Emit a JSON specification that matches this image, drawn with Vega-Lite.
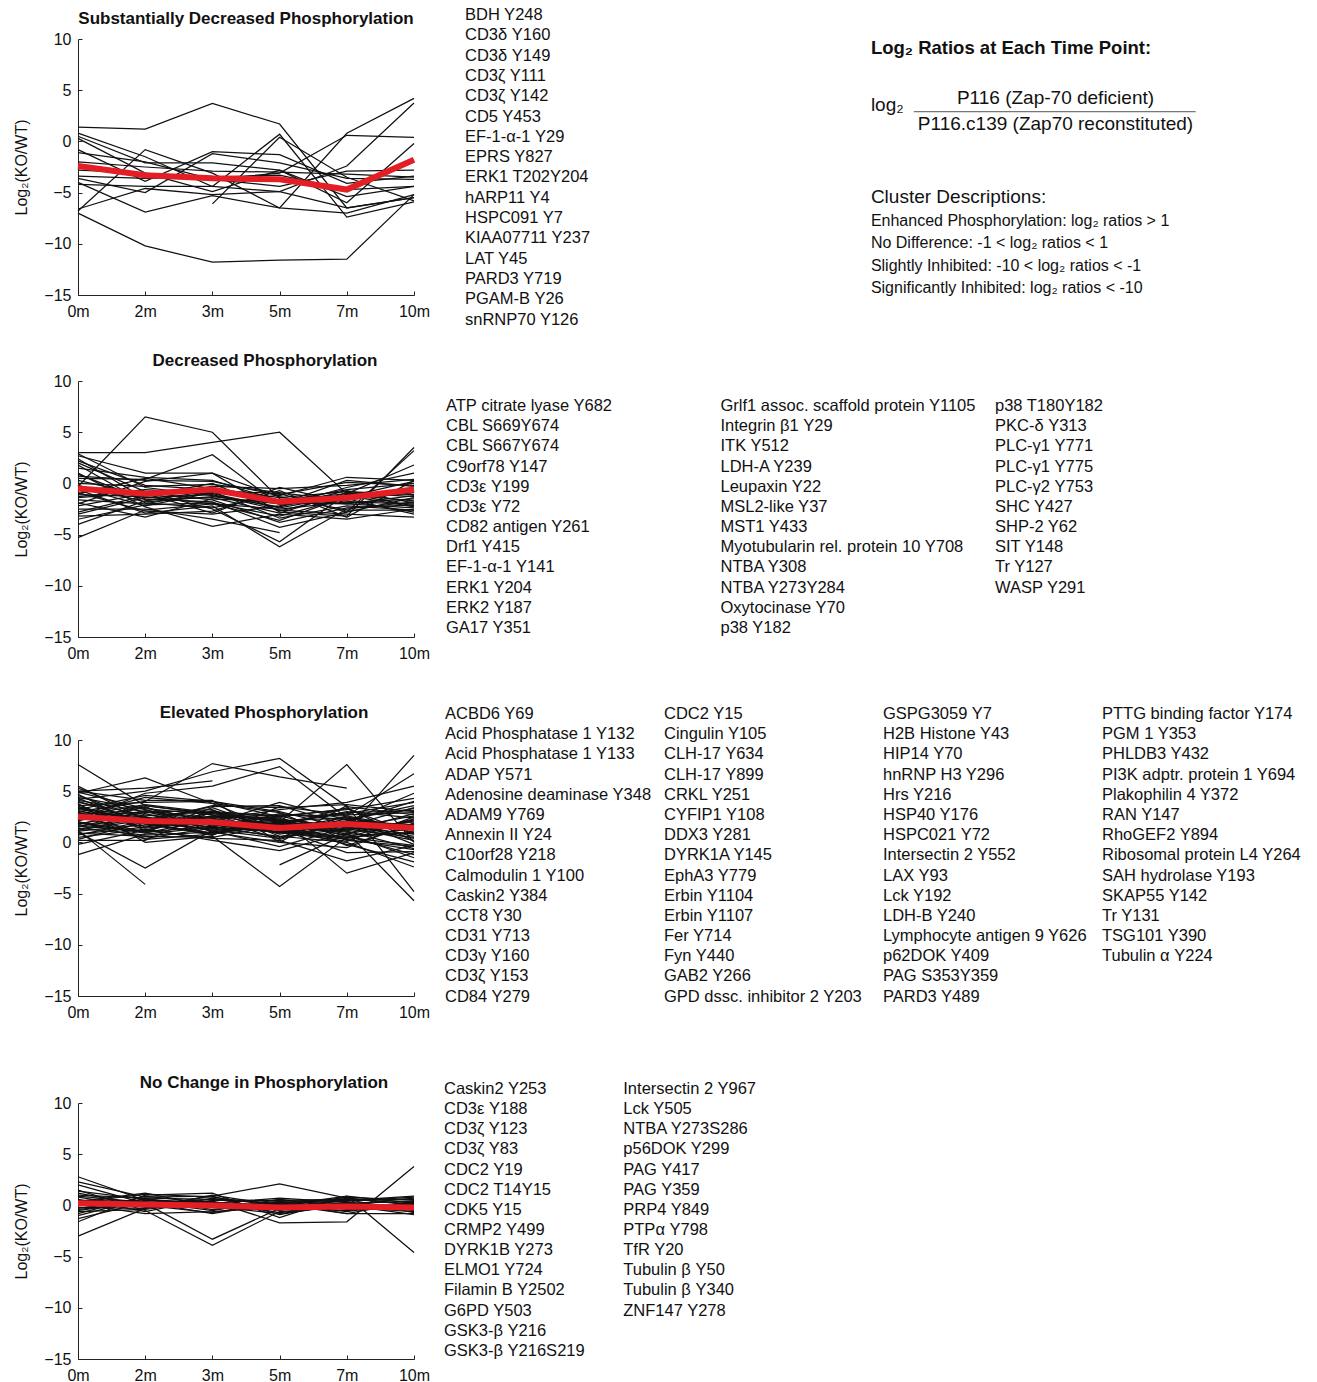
{
  "$schema": "https://vega.github.io/schema/vega-lite/v6.json",
  "padding": {"left": 13, "top": 7, "right": 0, "bottom": 0},
  "background": "white",
  "config": {
    "font": "Liberation Sans",
    "view": {"stroke": null},
    "axis": {"domainColor": "#222", "tickColor": "#222", "labelColor": "#111", "titleColor": "#111", "labelFontSize": 16, "titleFontSize": 16, "titleFontWeight": "normal", "grid": false, "tickSize": -4, "labelFont": "Liberation Sans", "titleFont": "Liberation Sans"},
    "title": {"fontSize": 17, "fontWeight": "bold", "color": "#111", "font": "Liberation Sans"},
    "text": {"font": "Liberation Sans", "color": "#111"}
  },
  "datasets": {
    "means": [
      {"panel": 1, "0m": -2.4, "2m": -3.3, "3m": -3.6, "5m": -3.7, "7m": -4.7, "10m": -1.8},
      {"panel": 2, "0m": -0.5, "2m": -1.0, "3m": -0.6, "5m": -1.8, "7m": -1.4, "10m": -0.6},
      {"panel": 3, "0m": 2.5, "2m": 2.1, "3m": 2.0, "5m": 1.4, "7m": 1.8, "10m": 1.4},
      {"panel": 4, "0m": 0.2, "2m": 0.1, "3m": 0.0, "5m": -0.2, "7m": -0.1, "10m": -0.2}
    ],
    "lines": [
      {"panel":1,"col":0,"name":"BDH Y248","0m":1.4,"2m":1.2,"3m":3.7,"5m":1.7,"7m":-6.5,"10m":-5.5},
      {"panel":1,"col":0,"name":"CD3δ Y160","0m":-7.0,"2m":-10.2,"3m":-11.8,"5m":-11.6,"7m":-11.5,"10m":-5.2},
      {"panel":1,"col":0,"name":"CD3δ Y149","0m":0.8,"2m":-1.5,"3m":-4.4,"5m":0.7,"7m":-7.4,"10m":-5.9},
      {"panel":1,"col":0,"name":"CD3ζ Y111","0m":-6.8,"2m":-0.8,"3m":-3.1,"5m":-6.5,"7m":0.8,"10m":4.2},
      {"panel":1,"col":0,"name":"CD3ζ Y142","0m":-6.6,"2m":-4.6,"3m":-5.2,"5m":-4.9,"7m":-2.4,"10m":3.75},
      {"panel":1,"col":0,"name":"CD5 Y453","0m":0.5,"2m":-2.1,"3m":-2.1,"5m":-2.8,"7m":-5.4,"10m":-4.4},
      {"panel":1,"col":0,"name":"EF-1-α-1 Y29","0m":-0.8,"2m":-3.9,"3m":-1.0,"5m":-1.3,"7m":-4.1,"10m":-3.4},
      {"panel":1,"col":0,"name":"EPRS Y827","0m":-1.1,"2m":-2.0,"3m":-3.7,"5m":-3.1,"7m":0.6,"10m":0.4},
      {"panel":1,"col":0,"name":"ERK1 T202Y204","0m":-2.8,"2m":-3.1,"3m":-4.9,"5m":-2.8,"7m":-6.0,"10m":-0.2},
      {"panel":1,"col":0,"name":"hARP11 Y4","0m":-3.6,"2m":-5.0,"3m":-1.2,"5m":-2.1,"7m":-3.6,"10m":-3.7},
      {"panel":1,"col":0,"name":"HSPC091 Y7","0m":-4.0,"2m":-6.9,"3m":-5.3,"5m":-6.5,"7m":-7.0,"10m":-5.2},
      {"panel":1,"col":0,"name":"KIAA07711 Y237","0m":-4.2,"2m":-4.4,"3m":-4.4,"5m":-4.9,"7m":-6.5,"10m":-5.5},
      {"panel":1,"col":0,"name":"LAT Y45","0m":0.3,"2m":-3.1,"3m":-3.7,"5m":-4.4,"7m":-2.9,"10m":-2.8},
      {"panel":1,"col":0,"name":"PARD3 Y719","0m":-3.4,"2m":-3.6,"3m":-3.5,"5m":-3.3,"7m":-4.7,"10m":-4.4},
      {"panel":1,"col":0,"name":"PGAM-B Y26","0m":-2.0,"2m":-2.5,"3m":-2.9,"5m":-3.0,"7m":-3.2,"10m":-3.5},
      {"panel":1,"col":0,"name":"snRNP70 Y126","0m":null,"2m":null,"3m":-6.1,"5m":0.4,"7m":-3.5,"10m":-5.8},

      {"panel":2,"col":0,"name":"ATP citrate lyase Y682","0m":3.0,"2m":3.0,"3m":4.0,"5m":5.0,"7m":-1.0,"10m":-2.2},
      {"panel":2,"col":0,"name":"CBL S669Y674","0m":-0.3,"2m":6.5,"3m":5.0,"5m":-1.5,"7m":-2.0,"10m":-1.2},
      {"panel":2,"col":0,"name":"CBL S667Y674","0m":0.5,"2m":0.4,"3m":2.8,"5m":-2.1,"7m":-1.6,"10m":-0.9},
      {"panel":2,"col":0,"name":"C9orf78 Y147","0m":-5.3,"2m":-2.6,"3m":-2.0,"5m":-2.5,"7m":-1.8,"10m":-2.0},
      {"panel":2,"col":0,"name":"CD3ε Y199","0m":2.7,"2m":1.0,"3m":1.0,"5m":-2.8,"7m":-3.2,"10m":3.5},
      {"panel":2,"col":0,"name":"CD3ε Y72","0m":2.4,"2m":-1.5,"3m":-1.8,"5m":-4.3,"7m":-2.8,"10m":3.2},
      {"panel":2,"col":0,"name":"CD82 antigen Y261","0m":2.0,"2m":-0.8,"3m":-2.5,"5m":-5.7,"7m":-1.0,"10m":1.8},
      {"panel":2,"col":0,"name":"Drf1 Y415","0m":1.0,"2m":-2.3,"3m":-4.2,"5m":-3.0,"7m":-3.5,"10m":-2.5},
      {"panel":2,"col":0,"name":"EF-1-α-1 Y141","0m":0.7,"2m":0.3,"3m":0.2,"5m":-1.2,"7m":0.6,"10m":0.3},
      {"panel":2,"col":0,"name":"ERK1 Y204","0m":0.3,"2m":-1.2,"3m":-0.3,"5m":-0.5,"7m":-0.2,"10m":0.4},
      {"panel":2,"col":0,"name":"ERK2 Y187","0m":-0.2,"2m":-1.8,"3m":-1.3,"5m":-2.0,"7m":0.3,"10m":-0.3},
      {"panel":2,"col":0,"name":"GA17 Y351","0m":-0.6,"2m":-2.9,"3m":-2.2,"5m":-6.2,"7m":-2.5,"10m":-1.8},
      {"panel":2,"col":1,"name":"Grlf1 assoc. scaffold protein  Y1105","0m":-1.0,"2m":0.5,"3m":-0.5,"5m":-1.4,"7m":-0.8,"10m":-1.1},
      {"panel":2,"col":1,"name":"Integrin β1 Y29","0m":-1.3,"2m":-0.6,"3m":-1.0,"5m":-2.4,"7m":-1.2,"10m":-2.3},
      {"panel":2,"col":1,"name":"ITK Y512","0m":-1.6,"2m":-2.0,"3m":-0.8,"5m":-3.4,"7m":-2.2,"10m":-2.6},
      {"panel":2,"col":1,"name":"LDH-A Y239","0m":-1.9,"2m":-3.3,"3m":-1.5,"5m":-1.8,"7m":-0.6,"10m":0.0},
      {"panel":2,"col":1,"name":"Leupaxin Y22","0m":-2.2,"2m":-1.0,"3m":-2.9,"5m":-0.4,"7m":-1.9,"10m":-1.5},
      {"panel":2,"col":1,"name":"MSL2-like Y37","0m":-2.5,"2m":-2.5,"3m":-3.5,"5m":-4.8,"7m":null,"10m":null},
      {"panel":2,"col":1,"name":"MST1 Y433","0m":-3.0,"2m":-1.4,"3m":-1.1,"5m":-2.6,"7m":-3.0,"10m":-3.3},
      {"panel":2,"col":1,"name":"Myotubularin rel. protein 10 Y708","0m":-3.5,"2m":-2.1,"3m":-1.9,"5m":-3.2,"7m":-1.4,"10m":-0.6},
      {"panel":2,"col":1,"name":"NTBA Y308","0m":-4.0,"2m":-1.7,"3m":-0.7,"5m":-1.0,"7m":-2.8,"10m":-1.4},
      {"panel":2,"col":1,"name":"NTBA Y273Y284","0m":1.5,"2m":0.6,"3m":0.3,"5m":-1.7,"7m":-1.0,"10m":-0.8},
      {"panel":2,"col":1,"name":"Oxytocinase Y70","0m":0.0,"2m":-0.3,"3m":-0.1,"5m":-0.9,"7m":-1.7,"10m":-2.8},
      {"panel":2,"col":1,"name":"p38 Y182","0m":-0.9,"2m":-2.7,"3m":-3.0,"5m":-2.2,"7m":-0.4,"10m":1.0},
      {"panel":2,"col":2,"name":"p38 T180Y182","0m":-1.4,"2m":-0.9,"3m":-1.6,"5m":-3.8,"7m":-2.4,"10m":-2.1},
      {"panel":2,"col":2,"name":"PKC-δ Y313","0m":-2.8,"2m":-1.2,"3m":0.0,"5m":-2.7,"7m":-1.1,"10m":-1.7},
      {"panel":2,"col":2,"name":"PLC-γ1 Y771","0m":1.8,"2m":-1.9,"3m":-2.4,"5m":-1.1,"7m":0.1,"10m":-0.2},
      {"panel":2,"col":2,"name":"PLC-γ1 Y775","0m":2.2,"2m":-0.2,"3m":-0.6,"5m":-1.9,"7m":-2.0,"10m":-2.4},
      {"panel":2,"col":2,"name":"PLC-γ2 Y753","0m":-3.2,"2m":-3.0,"3m":-2.7,"5m":-0.7,"7m":-3.3,"10m":0.3},
      {"panel":2,"col":2,"name":"SHC Y427","0m":0.9,"2m":-1.6,"3m":-1.4,"5m":-2.9,"7m":-0.9,"10m":-1.3},
      {"panel":2,"col":2,"name":"SHP-2 Y62","0m":-0.4,"2m":-2.2,"3m":-0.9,"5m":-1.6,"7m":-1.5,"10m":-3.0},
      {"panel":2,"col":2,"name":"SIT Y148","0m":-2.0,"2m":0.2,"3m":1.0,"5m":-1.3,"7m":-2.6,"10m":-2.6},
      {"panel":2,"col":2,"name":"Tr Y127","0m":2.9,"2m":-0.4,"3m":-1.2,"5m":-2.3,"7m":-0.7,"10m":-1.9},
      {"panel":2,"col":2,"name":"WASP Y291","0m":-1.1,"2m":-1.3,"3m":-2.0,"5m":-3.6,"7m":-1.3,"10m":0.2},

      {"panel":3,"col":0,"name":"ACBD6 Y69","0m":7.6,"2m":3.6,"3m":2.8,"5m":2.0,"7m":1.5,"10m":0.8},
      {"panel":3,"col":0,"name":"Acid Phosphatase 1 Y132","0m":5.5,"2m":2.2,"3m":1.5,"5m":1.0,"7m":2.1,"10m":1.7},
      {"panel":3,"col":0,"name":"Acid Phosphatase 1 Y133","0m":5.0,"2m":5.3,"3m":6.0,"5m":null,"7m":null,"10m":null},
      {"panel":3,"col":0,"name":"ADAP Y571","0m":4.8,"2m":6.3,"3m":3.8,"5m":1.2,"7m":0.5,"10m":-0.3},
      {"panel":3,"col":0,"name":"Adenosine deaminase Y348","0m":3.0,"2m":4.0,"3m":7.7,"5m":6.4,"7m":5.3,"10m":null},
      {"panel":3,"col":0,"name":"ADAM9 Y769","0m":4.2,"2m":5.0,"3m":6.9,"5m":8.2,"7m":3.5,"10m":2.7},
      {"panel":3,"col":0,"name":"Annexin II Y24","0m":2.2,"2m":4.8,"3m":5.5,"5m":7.4,"7m":2.4,"10m":1.2},
      {"panel":3,"col":0,"name":"C10orf28 Y218","0m":3.8,"2m":0.0,"3m":0.6,"5m":-4.3,"7m":0.5,"10m":1.0},
      {"panel":3,"col":0,"name":"Calmodulin 1 Y100","0m":1.0,"2m":-2.5,"3m":1.2,"5m":2.0,"7m":7.6,"10m":0.0},
      {"panel":3,"col":0,"name":"Caskin2 Y384","0m":1.2,"2m":-4.1,"3m":null,"5m":null,"7m":null,"10m":null},
      {"panel":3,"col":0,"name":"CCT8 Y30","0m":-1.2,"2m":0.8,"3m":1.5,"5m":1.0,"7m":0.3,"10m":-0.7},
      {"panel":3,"col":0,"name":"CD31 Y713","0m":-0.2,"2m":1.2,"3m":0.4,"5m":0.2,"7m":-1.8,"10m":-0.3},
      {"panel":3,"col":0,"name":"CD3γ Y160","0m":0.3,"2m":2.0,"3m":2.5,"5m":2.4,"7m":-3.0,"10m":-1.0},
      {"panel":3,"col":0,"name":"CD3ζ Y153","0m":1.6,"2m":2.4,"3m":2.1,"5m":1.8,"7m":1.2,"10m":8.5},
      {"panel":3,"col":0,"name":"CD84 Y279","0m":2.0,"2m":1.0,"3m":1.6,"5m":0.5,"7m":2.6,"10m":6.7},
      {"panel":3,"col":1,"name":"CDC2 Y15","0m":2.5,"2m":3.0,"3m":2.2,"5m":3.2,"7m":3.9,"10m":5.5},
      {"panel":3,"col":1,"name":"Cingulin Y105","0m":3.3,"2m":2.6,"3m":3.0,"5m":1.4,"7m":2.0,"10m":4.8},
      {"panel":3,"col":1,"name":"CLH-17 Y634","0m":3.5,"2m":1.8,"3m":0.9,"5m":2.6,"7m":3.2,"10m":4.3},
      {"panel":3,"col":1,"name":"CLH-17 Y899","0m":1.4,"2m":0.7,"3m":1.0,"5m":0.0,"7m":3.6,"10m":-4.8},
      {"panel":3,"col":1,"name":"CRKL Y251","0m":2.4,"2m":3.4,"3m":2.0,"5m":1.6,"7m":1.0,"10m":-5.7},
      {"panel":3,"col":1,"name":"CYFIP1 Y108","0m":1.8,"2m":2.9,"3m":3.2,"5m":0.6,"7m":0.0,"10m":-2.4},
      {"panel":3,"col":1,"name":"DDX3 Y281","0m":4.0,"2m":2.0,"3m":1.3,"5m":2.8,"7m":2.2,"10m":3.6},
      {"panel":3,"col":1,"name":"DYRK1A Y145","0m":3.6,"2m":3.9,"3m":4.0,"5m":3.0,"7m":1.4,"10m":2.6},
      {"panel":3,"col":1,"name":"EphA3 Y779","0m":0.8,"2m":1.5,"3m":2.6,"5m":2.2,"7m":0.8,"10m":-1.5},
      {"panel":3,"col":1,"name":"Erbin Y1104","0m":2.9,"2m":0.3,"3m":0.8,"5m":1.9,"7m":2.9,"10m":3.1},
      {"panel":3,"col":1,"name":"Erbin Y1107","0m":1.2,"2m":2.2,"3m":3.5,"5m":3.6,"7m":1.7,"10m":0.4},
      {"panel":3,"col":1,"name":"Fer Y714","0m":5.0,"2m":4.1,"3m":4.1,"5m":0.0,"7m":-0.5,"10m":1.9},
      {"panel":3,"col":1,"name":"Fyn Y440","0m":0.5,"2m":1.3,"3m":0.2,"5m":-0.8,"7m":0.9,"10m":2.2},
      {"panel":3,"col":1,"name":"GAB2 Y266","0m":2.6,"2m":3.7,"3m":2.9,"5m":2.5,"7m":3.3,"10m":0.8},
      {"panel":3,"col":1,"name":"GPD dssc. inhibitor 2 Y203","0m":4.4,"2m":3.2,"3m":1.7,"5m":1.2,"7m":2.5,"10m":1.2},
      {"panel":3,"col":2,"name":"GSPG3059 Y7","0m":3.1,"2m":1.9,"3m":0.7,"5m":3.5,"7m":2.7,"10m":2.9},
      {"panel":3,"col":2,"name":"H2B Histone Y43","0m":1.9,"2m":0.9,"3m":2.3,"5m":1.5,"7m":-0.2,"10m":-1.9},
      {"panel":3,"col":2,"name":"HIP14 Y70","0m":2.3,"2m":2.5,"3m":1.1,"5m":-0.4,"7m":1.5,"10m":0.2},
      {"panel":3,"col":2,"name":"hnRNP H3 Y296","0m":4.9,"2m":3.3,"3m":2.7,"5m":2.3,"7m":1.3,"10m":2.0},
      {"panel":3,"col":2,"name":"Hrs Y216","0m":1.6,"2m":1.1,"3m":3.4,"5m":1.1,"7m":0.4,"10m":1.4},
      {"panel":3,"col":2,"name":"HSP40 Y176","0m":3.9,"2m":2.7,"3m":1.8,"5m":0.9,"7m":2.3,"10m":3.3},
      {"panel":3,"col":2,"name":"HSPC021 Y72","0m":0.9,"2m":0.6,"3m":0.5,"5m":1.7,"7m":3.0,"10m":2.4},
      {"panel":3,"col":2,"name":"Intersectin 2 Y552","0m":2.7,"2m":4.4,"3m":3.8,"5m":2.9,"7m":0.2,"10m":-0.4},
      {"panel":3,"col":2,"name":"LAX Y93","0m":4.6,"2m":2.3,"3m":2.4,"5m":0.3,"7m":1.9,"10m":0.6},
      {"panel":3,"col":2,"name":"Lck Y192","0m":1.1,"2m":1.7,"3m":0.9,"5m":2.0,"7m":2.8,"10m":3.9},
      {"panel":3,"col":2,"name":"LDH-B Y240","0m":3.4,"2m":1.4,"3m":2.0,"5m":1.3,"7m":-1.0,"10m":-0.9},
      {"panel":3,"col":2,"name":"Lymphocyte antigen 9 Y626","0m":2.1,"2m":3.6,"3m":2.7,"5m":0.8,"7m":1.8,"10m":1.6},
      {"panel":3,"col":2,"name":"p62DOK Y409","0m":5.3,"2m":2.8,"3m":1.4,"5m":2.1,"7m":0.6,"10m":-1.2},
      {"panel":3,"col":2,"name":"PAG S353Y359","0m":0.2,"2m":0.2,"3m":3.0,"5m":2.6,"7m":1.1,"10m":2.8},
      {"panel":3,"col":2,"name":"PARD3 Y489","0m":3.7,"2m":1.2,"3m":2.6,"5m":1.6,"7m":3.4,"10m":0.1},
      {"panel":3,"col":3,"name":"PTTG binding factor Y174","0m":1.3,"2m":2.4,"3m":1.9,"5m":3.9,"7m":2.2,"10m":1.0},
      {"panel":3,"col":3,"name":"PGM 1 Y353","0m":4.1,"2m":3.0,"3m":1.6,"5m":2.2,"7m":1.6,"10m":3.4},
      {"panel":3,"col":3,"name":"PHLDB3 Y432","0m":2.5,"2m":1.0,"3m":3.1,"5m":1.4,"7m":0.5,"10m":2.3},
      {"panel":3,"col":3,"name":"PI3K adptr. protein 1 Y694","0m":3.2,"2m":4.6,"3m":4.0,"5m":2.5,"7m":-0.3,"10m":1.8},
      {"panel":3,"col":3,"name":"Plakophilin 4 Y372","0m":0.7,"2m":2.1,"3m":1.2,"5m":0.4,"7m":2.0,"10m":4.0},
      {"panel":3,"col":3,"name":"RAN Y147","0m":2.9,"2m":2.5,"3m":0.8,"5m":1.8,"7m":1.1,"10m":-0.6},
      {"panel":3,"col":3,"name":"RhoGEF2 Y894","0m":1.5,"2m":3.1,"3m":2.4,"5m":2.7,"7m":2.6,"10m":1.3},
      {"panel":3,"col":3,"name":"Ribosomal protein L4 Y264","0m":4.3,"2m":1.8,"3m":2.2,"5m":1.0,"7m":0.1,"10m":2.5},
      {"panel":3,"col":3,"name":"SAH hydrolase Y193","0m":2.0,"2m":0.4,"3m":1.4,"5m":0.6,"7m":1.3,"10m":0.5},
      {"panel":3,"col":3,"name":"SKAP55 Y142","0m":null,"2m":null,"3m":null,"5m":-2.2,"7m":0.8,"10m":2.1},
      {"panel":3,"col":3,"name":"Tr Y131","0m":3.5,"2m":2.0,"3m":3.6,"5m":3.4,"7m":3.7,"10m":3.0},
      {"panel":3,"col":3,"name":"TSG101 Y390","0m":1.7,"2m":3.5,"3m":1.0,"5m":1.9,"7m":0.7,"10m":0.9},
      {"panel":3,"col":3,"name":"Tubulin α Y224","0m":4.7,"2m":1.5,"3m":2.9,"5m":2.1,"7m":2.4,"10m":-0.2},

      {"panel":4,"col":0,"name":"Caskin2 Y253","0m":2.8,"2m":0.5,"3m":0.3,"5m":0.0,"7m":0.2,"10m":0.4},
      {"panel":4,"col":0,"name":"CD3ε Y188","0m":2.3,"2m":0.8,"3m":0.9,"5m":2.1,"7m":0.7,"10m":0.1},
      {"panel":4,"col":0,"name":"CD3ζ Y123","0m":2.0,"2m":0.2,"3m":-3.3,"5m":-0.3,"7m":0.5,"10m":0.6},
      {"panel":4,"col":0,"name":"CD3ζ Y83","0m":1.5,"2m":-0.5,"3m":-3.9,"5m":-0.6,"7m":-0.1,"10m":-0.3},
      {"panel":4,"col":0,"name":"CDC2 Y19","0m":-3.0,"2m":-0.3,"3m":0.4,"5m":-1.7,"7m":-1.6,"10m":3.8},
      {"panel":4,"col":0,"name":"CDC2 T14Y15","0m":-1.6,"2m":1.0,"3m":1.2,"5m":-1.2,"7m":0.9,"10m":-4.6},
      {"panel":4,"col":0,"name":"CDK5 Y15","0m":-1.3,"2m":0.3,"3m":-0.8,"5m":0.3,"7m":-0.8,"10m":-0.8},
      {"panel":4,"col":0,"name":"CRMP2 Y499","0m":1.0,"2m":0.7,"3m":0.6,"5m":0.2,"7m":0.4,"10m":0.8},
      {"panel":4,"col":0,"name":"DYRK1B Y273","0m":0.8,"2m":-0.2,"3m":0.1,"5m":-0.4,"7m":0.3,"10m":-0.5},
      {"panel":4,"col":0,"name":"ELMO1 Y724","0m":0.5,"2m":0.4,"3m":-0.5,"5m":0.6,"7m":-0.3,"10m":0.2},
      {"panel":4,"col":0,"name":"Filamin B Y2502","0m":0.3,"2m":1.1,"3m":0.8,"5m":-0.1,"7m":0.8,"10m":0.5},
      {"panel":4,"col":0,"name":"G6PD Y503","0m":0.0,"2m":0.1,"3m":0.4,"5m":-0.7,"7m":0.0,"10m":-0.1},
      {"panel":4,"col":0,"name":"GSK3-β Y216","0m":-0.3,"2m":0.6,"3m":-0.2,"5m":0.2,"7m":-0.6,"10m":0.3},
      {"panel":4,"col":0,"name":"GSK3-β Y216S219","0m":-0.6,"2m":-0.4,"3m":0.5,"5m":0.5,"7m":0.6,"10m":-0.7},
      {"panel":4,"col":1,"name":"Intersectin 2 Y967","0m":-0.8,"2m":0.9,"3m":0.2,"5m":-0.2,"7m":0.1,"10m":0.7},
      {"panel":4,"col":1,"name":"Lck Y505","0m":1.2,"2m":0.0,"3m":-0.7,"5m":0.4,"7m":-0.4,"10m":-0.2},
      {"panel":4,"col":1,"name":"NTBA Y273S286","0m":0.6,"2m":-0.6,"3m":0.7,"5m":-0.5,"7m":0.7,"10m":0.0},
      {"panel":4,"col":1,"name":"p56DOK Y299","0m":-0.5,"2m":0.5,"3m":0.0,"5m":0.1,"7m":-0.8,"10m":0.4},
      {"panel":4,"col":1,"name":"PAG Y417","0m":0.2,"2m":-0.1,"3m":0.9,"5m":-0.9,"7m":0.2,"10m":-0.4},
      {"panel":4,"col":1,"name":"PAG Y359","0m":-1.0,"2m":0.7,"3m":-0.4,"5m":0.3,"7m":0.5,"10m":0.9},
      {"panel":4,"col":1,"name":"PRP4 Y849","0m":0.9,"2m":0.3,"3m":0.3,"5m":-0.3,"7m":-0.2,"10m":-0.6},
      {"panel":4,"col":1,"name":"PTPα Y798","0m":-0.2,"2m":-0.3,"3m":1.0,"5m":0.0,"7m":0.9,"10m":0.2},
      {"panel":4,"col":1,"name":"TfR Y20","0m":0.4,"2m":1.2,"3m":-0.1,"5m":-0.8,"7m":0.0,"10m":-0.9},
      {"panel":4,"col":1,"name":"Tubulin β Y50","0m":-0.4,"2m":0.2,"3m":0.6,"5m":0.4,"7m":0.6,"10m":0.6},
      {"panel":4,"col":1,"name":"Tubulin β Y340","0m":0.1,"2m":-0.8,"3m":-0.6,"5m":-0.2,"7m":-0.5,"10m":0.1},
      {"panel":4,"col":1,"name":"ZNF147 Y278","0m":1.4,"2m":0.6,"3m":0.2,"5m":0.7,"7m":0.3,"10m":-0.2}
    ]
  },
  "columns": 2,
  "align": "each",
  "bounds": "flush",
  "spacing": {"row": 86, "column": 31},
  "concat": [
    {
      "width": 336, "height": 256,
      "title": {"text": "Substantially Decreased Phosphorylation", "offset": 3},
      "layer": [
        {"data": {"name": "lines"},
         "transform": [{"filter": "datum.panel == 1"}, {"fold": ["0m","2m","3m","5m","7m","10m"], "as": ["t","v"]}],
         "mark": {"type": "line", "color": "#111", "strokeWidth": 1.25},
         "encoding": {
           "x": {"field": "t", "type": "ordinal", "sort": ["0m","2m","3m","5m","7m","10m"], "scale": {"type": "point", "padding": 0}, "axis": {"title": null, "labelAngle": 0, "labelPadding": 12}},
           "y": {"field": "v", "type": "quantitative", "scale": {"domain": [-15, 10], "nice": false, "zero": false}, "axis": {"title": "Log₂(KO/WT)", "values": [-15,-10,-5,0,5,10], "labelPadding": 11, "titlePadding": 14}},
           "detail": {"field": "name"},
           "order": {"value": null}
         }},
        {"data": {"name": "means"},
         "transform": [{"filter": "datum.panel == 1"}, {"fold": ["0m","2m","3m","5m","7m","10m"], "as": ["t","v"]}],
         "mark": {"type": "line", "color": "#e31e24", "strokeWidth": 6},
         "encoding": {
           "x": {"field": "t", "type": "ordinal", "sort": ["0m","2m","3m","5m","7m","10m"], "scale": {"type": "point", "padding": 0}, "axis": {"title": null, "labelAngle": 0, "labelPadding": 12}},
           "y": {"field": "v", "type": "quantitative", "scale": {"domain": [-15, 10], "nice": false, "zero": false}, "axis": {"title": "Log₂(KO/WT)", "values": [-15,-10,-5,0,5,10], "labelPadding": 11, "titlePadding": 14}},
           "order": {"value": null}
         }}
      ]
    },
    {
      "width": 766, "height": 256,
      "resolve": {"scale": {"x": "independent", "y": "independent"}},
      "layer": [
        {"data": {"name": "lines"},
         "transform": [{"filter": "datum.panel == 1"}, {"window": [{"op": "row_number", "as": "r"}], "groupby": ["col"]}],
         "mark": {"type": "text", "align": "left", "baseline": "middle", "fontSize": 16.5},
         "encoding": {
           "x": {"field": "col", "type": "quantitative", "scale": {"domain": [-0.2, 7.46], "nice": false, "zero": false}, "axis": null},
           "y": {"field": "r", "type": "quantitative", "scale": {"domain": [2.182, 14.793], "nice": false, "zero": false, "reverse": true}, "axis": null},
           "text": {"field": "name"}
         }},
        {"data": {"values": [{}]},
         "layer": [
           {"mark": {"type": "text", "text": "Log₂ Ratios at Each Time Point:", "align": "left", "baseline": "middle", "fontSize": 18.5, "fontWeight": "bold"},
            "encoding": {"x": {"datum": 55.6, "type": "quantitative", "scale": {"domain": [0, 100], "nice": false, "zero": false}, "axis": null},
                         "y": {"datum": 3.5, "type": "quantitative", "scale": {"domain": [0, 100], "nice": false, "zero": false, "reverse": true}, "axis": null}}},
           {"mark": {"type": "text", "text": "log₂", "align": "left", "baseline": "middle", "fontSize": 19},
            "encoding": {"x": {"datum": 55.6, "type": "quantitative", "scale": {"domain": [0, 100], "nice": false, "zero": false}, "axis": null},
                         "y": {"datum": 25.8, "type": "quantitative", "scale": {"domain": [0, 100], "nice": false, "zero": false, "reverse": true}, "axis": null}}},
           {"mark": {"type": "text", "text": "P116 (Zap-70 deficient)", "align": "center", "baseline": "middle", "fontSize": 19},
            "encoding": {"x": {"datum": 79.7, "type": "quantitative", "scale": {"domain": [0, 100], "nice": false, "zero": false}, "axis": null},
                         "y": {"datum": 23.2, "type": "quantitative", "scale": {"domain": [0, 100], "nice": false, "zero": false, "reverse": true}, "axis": null}}},
           {"mark": {"type": "rule", "color": "#555", "strokeWidth": 1},
            "encoding": {"x": {"datum": 61.2, "type": "quantitative", "scale": {"domain": [0, 100], "nice": false, "zero": false}, "axis": null},
                         "x2": {"datum": 98.0},
                         "y": {"datum": 28.4, "type": "quantitative", "scale": {"domain": [0, 100], "nice": false, "zero": false, "reverse": true}, "axis": null}}},
           {"mark": {"type": "text", "text": "P116.c139 (Zap70 reconstituted)", "align": "center", "baseline": "middle", "fontSize": 19},
            "encoding": {"x": {"datum": 79.7, "type": "quantitative", "scale": {"domain": [0, 100], "nice": false, "zero": false}, "axis": null},
                         "y": {"datum": 33.3, "type": "quantitative", "scale": {"domain": [0, 100], "nice": false, "zero": false, "reverse": true}, "axis": null}}},
           {"mark": {"type": "text", "text": "Cluster Descriptions:", "align": "left", "baseline": "middle", "fontSize": 19},
            "encoding": {"x": {"datum": 55.6, "type": "quantitative", "scale": {"domain": [0, 100], "nice": false, "zero": false}, "axis": null},
                         "y": {"datum": 61.6, "type": "quantitative", "scale": {"domain": [0, 100], "nice": false, "zero": false, "reverse": true}, "axis": null}}},
           {"mark": {"type": "text", "text": "Enhanced Phosphorylation: log₂ ratios > 1", "align": "left", "baseline": "middle", "fontSize": 16},
            "encoding": {"x": {"datum": 55.6, "type": "quantitative", "scale": {"domain": [0, 100], "nice": false, "zero": false}, "axis": null},
                         "y": {"datum": 71.0, "type": "quantitative", "scale": {"domain": [0, 100], "nice": false, "zero": false, "reverse": true}, "axis": null}}},
           {"mark": {"type": "text", "text": "No Difference: -1 < log₂ ratios < 1", "align": "left", "baseline": "middle", "fontSize": 16},
            "encoding": {"x": {"datum": 55.6, "type": "quantitative", "scale": {"domain": [0, 100], "nice": false, "zero": false}, "axis": null},
                         "y": {"datum": 79.8, "type": "quantitative", "scale": {"domain": [0, 100], "nice": false, "zero": false, "reverse": true}, "axis": null}}},
           {"mark": {"type": "text", "text": "Slightly Inhibited: -10 < log₂ ratios < -1", "align": "left", "baseline": "middle", "fontSize": 16},
            "encoding": {"x": {"datum": 55.6, "type": "quantitative", "scale": {"domain": [0, 100], "nice": false, "zero": false}, "axis": null},
                         "y": {"datum": 88.7, "type": "quantitative", "scale": {"domain": [0, 100], "nice": false, "zero": false, "reverse": true}, "axis": null}}},
           {"mark": {"type": "text", "text": "Significantly Inhibited: log₂ ratios < -10", "align": "left", "baseline": "middle", "fontSize": 16},
            "encoding": {"x": {"datum": 55.6, "type": "quantitative", "scale": {"domain": [0, 100], "nice": false, "zero": false}, "axis": null},
                         "y": {"datum": 97.4, "type": "quantitative", "scale": {"domain": [0, 100], "nice": false, "zero": false, "reverse": true}, "axis": null}}}
         ]}
      ]
    },
    {
      "width": 336, "height": 256,
      "title": {"text": "Decreased Phosphorylation", "offset": 3, "dx": 19},
      "layer": [
        {"data": {"name": "lines"},
         "transform": [{"filter": "datum.panel == 2"}, {"fold": ["0m","2m","3m","5m","7m","10m"], "as": ["t","v"]}],
         "mark": {"type": "line", "color": "#111", "strokeWidth": 1.25},
         "encoding": {
           "x": {"field": "t", "type": "ordinal", "sort": ["0m","2m","3m","5m","7m","10m"], "scale": {"type": "point", "padding": 0}, "axis": {"title": null, "labelAngle": 0, "labelPadding": 12}},
           "y": {"field": "v", "type": "quantitative", "scale": {"domain": [-15, 10], "nice": false, "zero": false}, "axis": {"title": "Log₂(KO/WT)", "values": [-15,-10,-5,0,5,10], "labelPadding": 11, "titlePadding": 14}},
           "detail": {"field": "name"},
           "order": {"value": null}
         }},
        {"data": {"name": "means"},
         "transform": [{"filter": "datum.panel == 2"}, {"fold": ["0m","2m","3m","5m","7m","10m"], "as": ["t","v"]}],
         "mark": {"type": "line", "color": "#e31e24", "strokeWidth": 6},
         "encoding": {
           "x": {"field": "t", "type": "ordinal", "sort": ["0m","2m","3m","5m","7m","10m"], "scale": {"type": "point", "padding": 0}, "axis": {"title": null, "labelAngle": 0, "labelPadding": 12}},
           "y": {"field": "v", "type": "quantitative", "scale": {"domain": [-15, 10], "nice": false, "zero": false}, "axis": {"title": "Log₂(KO/WT)", "values": [-15,-10,-5,0,5,10], "labelPadding": 11, "titlePadding": 14}},
           "order": {"value": null}
         }}
      ]
    },
    {
      "width": 766, "height": 273,
      "data": {"name": "lines"},
      "transform": [{"filter": "datum.panel == 2"}, {"window": [{"op": "row_number", "as": "r"}], "groupby": ["col"]}],
      "mark": {"type": "text", "align": "left", "baseline": "middle", "fontSize": 16.5},
      "encoding": {
        "x": {"field": "col", "type": "quantitative", "scale": {"domain": [-0.0036, 2.787], "nice": false, "zero": false}, "axis": null},
        "y": {"field": "r", "type": "quantitative", "scale": {"domain": [-0.239, 13.289], "nice": false, "zero": false, "reverse": true}, "axis": null},
        "text": {"field": "name"}
      }
    },
    {
      "width": 336, "height": 256,
      "title": {"text": "Elevated Phosphorylation", "offset": 10, "dx": 18},
      "layer": [
        {"data": {"name": "lines"},
         "transform": [{"filter": "datum.panel == 3"}, {"fold": ["0m","2m","3m","5m","7m","10m"], "as": ["t","v"]}],
         "mark": {"type": "line", "color": "#111", "strokeWidth": 1.25},
         "encoding": {
           "x": {"field": "t", "type": "ordinal", "sort": ["0m","2m","3m","5m","7m","10m"], "scale": {"type": "point", "padding": 0}, "axis": {"title": null, "labelAngle": 0, "labelPadding": 12}},
           "y": {"field": "v", "type": "quantitative", "scale": {"domain": [-15, 10], "nice": false, "zero": false}, "axis": {"title": "Log₂(KO/WT)", "values": [-15,-10,-5,0,5,10], "labelPadding": 11, "titlePadding": 14}},
           "detail": {"field": "name"},
           "order": {"value": null}
         }},
        {"data": {"name": "means"},
         "transform": [{"filter": "datum.panel == 3"}, {"fold": ["0m","2m","3m","5m","7m","10m"], "as": ["t","v"]}],
         "mark": {"type": "line", "color": "#e31e24", "strokeWidth": 6},
         "encoding": {
           "x": {"field": "t", "type": "ordinal", "sort": ["0m","2m","3m","5m","7m","10m"], "scale": {"type": "point", "padding": 0}, "axis": {"title": null, "labelAngle": 0, "labelPadding": 12}},
           "y": {"field": "v", "type": "quantitative", "scale": {"domain": [-15, 10], "nice": false, "zero": false}, "axis": {"title": "Log₂(KO/WT)", "values": [-15,-10,-5,0,5,10], "labelPadding": 11, "titlePadding": 14}},
           "order": {"value": null}
         }}
      ]
    },
    {
      "width": 766, "height": 277,
      "data": {"name": "lines"},
      "transform": [{"filter": "datum.panel == 3"}, {"window": [{"op": "row_number", "as": "r"}], "groupby": ["col"]}],
      "mark": {"type": "text", "align": "left", "baseline": "middle", "fontSize": 16.5},
      "encoding": {
        "x": {"field": "col", "type": "quantitative", "scale": {"domain": [0, 3.4977], "nice": false, "zero": false}, "axis": null},
        "y": {"field": "r", "type": "quantitative", "scale": {"domain": [2.288, 16.008], "nice": false, "zero": false, "reverse": true}, "axis": null},
        "text": {"field": "name"}
      }
    },
    {
      "width": 336, "height": 256,
      "title": {"text": "No Change in Phosphorylation", "offset": 3, "dx": 18},
      "layer": [
        {"data": {"name": "lines"},
         "transform": [{"filter": "datum.panel == 4"}, {"fold": ["0m","2m","3m","5m","7m","10m"], "as": ["t","v"]}],
         "mark": {"type": "line", "color": "#111", "strokeWidth": 1.25},
         "encoding": {
           "x": {"field": "t", "type": "ordinal", "sort": ["0m","2m","3m","5m","7m","10m"], "scale": {"type": "point", "padding": 0}, "axis": {"title": null, "labelAngle": 0, "labelPadding": 12}},
           "y": {"field": "v", "type": "quantitative", "scale": {"domain": [-15, 10], "nice": false, "zero": false}, "axis": {"title": "Log₂(KO/WT)", "values": [-15,-10,-5,0,5,10], "labelPadding": 11, "titlePadding": 14}},
           "detail": {"field": "name"},
           "order": {"value": null}
         }},
        {"data": {"name": "means"},
         "transform": [{"filter": "datum.panel == 4"}, {"fold": ["0m","2m","3m","5m","7m","10m"], "as": ["t","v"]}],
         "mark": {"type": "line", "color": "#e31e24", "strokeWidth": 6},
         "encoding": {
           "x": {"field": "t", "type": "ordinal", "sort": ["0m","2m","3m","5m","7m","10m"], "scale": {"type": "point", "padding": 0}, "axis": {"title": null, "labelAngle": 0, "labelPadding": 12}},
           "y": {"field": "v", "type": "quantitative", "scale": {"domain": [-15, 10], "nice": false, "zero": false}, "axis": {"title": "Log₂(KO/WT)", "values": [-15,-10,-5,0,5,10], "labelPadding": 11, "titlePadding": 14}},
           "order": {"value": null}
         }}
      ]
    },
    {
      "width": 766, "height": 256,
      "data": {"name": "lines"},
      "transform": [{"filter": "datum.panel == 4"}, {"window": [{"op": "row_number", "as": "r"}], "groupby": ["col"]}],
      "mark": {"type": "text", "align": "left", "baseline": "middle", "fontSize": 16.5},
      "encoding": {
        "x": {"field": "col", "type": "quantitative", "scale": {"domain": [0.0056, 4.278], "nice": false, "zero": false}, "axis": null},
        "y": {"field": "r", "type": "quantitative", "scale": {"domain": [1.695, 14.4], "nice": false, "zero": false, "reverse": true}, "axis": null},
        "text": {"field": "name"}
      }
    }
  ]
}
